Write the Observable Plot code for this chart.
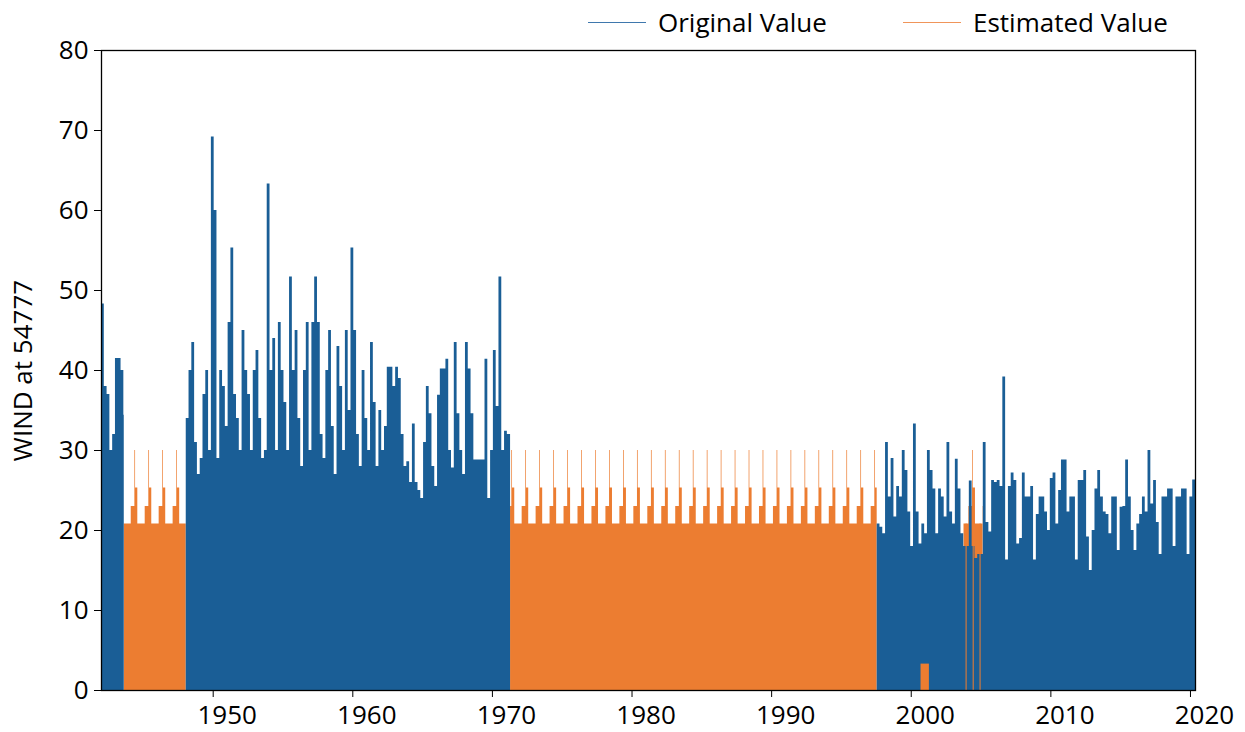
<!DOCTYPE html>
<html><head><meta charset="utf-8">
<script src="https://cdn.jsdelivr.net/npm/d3@7"></script>
<script src="https://cdn.jsdelivr.net/npm/@observablehq/plot@0.6"></script>
<style>
body{margin:0;background:#fff;font-family:"Open Sans",sans-serif;}
#wrap{position:relative;width:1245px;height:732px;overflow:hidden;}
#legend{position:absolute;left:0;top:0;height:40px;width:1245px;z-index:2;}
#chart{position:absolute;left:0;top:0;}
.li{position:absolute;top:2px;height:40px;display:flex;align-items:center;font-size:26px;color:#000;white-space:nowrap;}
.sw{display:inline-block;width:58px;height:0;border-top:1.5px solid;margin-right:12px;}
</style></head><body>
<div id="wrap"><div id="chart"></div><div id="legend"></div></div>
<script>
// ---- data ----
const seriesNames = ["Original Value", "Estimated Value"];
const seriesColors = ["#1a5e96", "#ec7d31"];
const legendLineColors = ["#3f78ad", "#f0955a"];
const yLabel = "WIND at 54777";
const xTicks = [1950, 1960, 1970, 1980, 1990, 2000, 2010, 2020];
const yTicks = [0, 10, 20, 30, 40, 50, 60, 70, 80];
const xDomain = [1942.0, 2020.36];

// original values: envelope of daily maxima sampled every 0.2 year
const origStep = 0.2;
const origA = {start: 1942.0, end: 1943.63};
const origAValues = [48.3, 38, 37, 30, 32, 41.5, 41.5, 40, 34.4];
const origB = {start: 1948.07, end: 1971.3};
const origBValues = [34, 40, 43.5, 31, 27, 29, 37, 40, 30, 69.2,
  60, 29, 40, 38, 33, 46, 55.3, 37, 34, 30,
  45, 40, 37, 30, 40, 42.5, 34, 29, 30, 63.3,
  40, 44, 30, 46, 40, 36, 30, 51.7, 40, 45,
  34, 28, 40, 46, 30, 46, 51.7, 46, 32, 29,
  40, 45, 33, 27, 43, 38, 30, 45, 35, 55.3,
  45, 32, 28, 40, 34, 30, 43.5, 36, 28, 35,
  30, 33, 40.4, 40.4, 38, 40.4, 39, 32, 28, 28.6,
  26, 33.3, 26, 25, 24, 31, 38, 34.6, 28, 25.5,
  36.9, 40.2, 40.2, 41.4, 30, 27.8, 43.5, 34.6, 30, 27,
  43.5, 40.2, 34.6, 28.8, 28.8, 28.8, 28.8, 41.4, 24, 30,
  42.5, 35.5, 51.7, 30, 32.4, 32];
const origC = {start: 1997.56, end: 2020.36};
const origCValues = [20.8, 20.4, 19.6, 31, 24.2, 29, 21.7, 25.5, 24.2, 30,
  27.5, 22.3, 18, 33.3, 22.3, 18.3, 20.8, 19.6, 30, 27.5,
  25.2, 19.6, 25.2, 24.2, 21.7, 31, 22.3, 20.8, 28.9, 25.2,
  19.6, 18, 18, 26.2, 18, 16.5, 17, 17, 31, 21,
  19.8, 26.25, 26, 26.25, 25.5, 39.2, 16.3, 25.5, 27.2, 26.25,
  18.3, 19, 27.2, 24.2, 24.2, 25.5, 16.3, 22, 24.2, 24.2,
  22.3, 20, 26.5, 27.2, 20.8, 25, 28.8, 28.8, 22.3, 24.2,
  24.2, 16.3, 26.25, 26.25, 27.5, 19.2, 15, 20, 25.2, 27.5,
  24.2, 22.3, 22, 19.6, 24.2, 24.2, 17.5, 22.9, 23, 28.8,
  24.2, 20, 17.5, 20.8, 22, 24.2, 22.3, 30, 23.3, 26.25,
  21, 17, 24.2, 24.2, 25.2, 25.2, 18, 24.2, 24.2, 25.2,
  25.2, 17, 24.2, 26.3];

// estimated values: seasonal pattern (fraction of year -> value)
const estPhase = [0, 0.13, 0.39, 0.44, 0.6];
const estLevel = [20.8, 23.0, 30.0, 25.3, 20.8];
const estPeriods = [[1943.63, 1948.07], [1971.3, 1997.56], [2003.78, 2005.15]];
const estBlock = [2000.7, 2001.3, 3.3];          // [from, to, value]
const estStripYears = [2003.93, 2004.44, 2004.93];
const estStripValues = [20.8, 20.8, 20.8];

// ---- build tables ----
function stepData(p, vals, seg) {
  const out = vals.map((v, i) => ({t: p.start + i * origStep, v, seg}));
  out.push({t: p.end, v: vals[vals.length - 1], seg});
  return out;
}
const orig = [
  ...stepData(origA, origAValues, "a"),
  ...stepData(origB, origBValues, "b"),
  ...stepData(origC, origCValues, "c")
];
function levelAt(t) {
  const f = t - Math.floor(t);
  let v = estLevel[0];
  estPhase.forEach((ph, k) => { if (f >= ph) v = estLevel[k]; });
  return v;
}
function estData([a, b], seg) {
  const pts = [{t: a, v: levelAt(a), seg}];
  for (let y = Math.floor(a); y <= Math.floor(b); y++) {
    estPhase.forEach((ph, k) => {
      const t = y + ph;
      if (t > a && t < b) pts.push({t, v: estLevel[k], seg});
    });
  }
  pts.push({t: b, v: levelAt(b), seg});
  return pts.sort((p, q) => p.t - q.t);
}
const estMain = [...estData(estPeriods[0], "e0"), ...estData(estPeriods[1], "e1")];
const estMixed = estData(estPeriods[2], "e2");
const estStrips = estStripYears.map((t, i) => ({t, v: estStripValues[i]}));

// ---- legend ----
const legend = document.getElementById("legend");
const legendX = [588, 903];
seriesNames.forEach((n, i) => {
  const d = document.createElement("div");
  d.className = "li";
  d.style.left = legendX[i] + "px";
  d.innerHTML = `<span class="sw" style="border-color:${legendLineColors[i]}"></span>${n}`;
  legend.appendChild(d);
});

// ---- chart ----
const chart = Plot.plot({
  width: 1245,
  height: 732,
  marginTop: 50,
  marginBottom: 42,
  marginLeft: 101,
  marginRight: 50,
  style: {fontFamily: "'Open Sans', sans-serif", fontSize: "26px", color: "#000", background: "#fff"},
  x: {domain: xDomain},
  y: {domain: [0, 80]},
  marks: [
    Plot.areaY(estMain, {x: "t", y: "v", z: "seg", curve: "step-after", fill: seriesColors[1]}),
    Plot.areaY(estMixed, {x: "t", y: "v", z: "seg", curve: "step-after", fill: seriesColors[1]}),
    Plot.areaY(orig, {x: "t", y: "v", z: "seg", curve: "step-after", fill: seriesColors[0]}),
    Plot.rectY([estBlock], {x1: d => d[0], x2: d => d[1], y1: 0, y2: d => d[2], fill: seriesColors[1]}),
    Plot.ruleX(estStrips, {x: "t", y1: 0, y2: "v", stroke: seriesColors[1], strokeWidth: 1.3, strokeOpacity: 0.8}),
    Plot.axisY({ticks: yTicks, tickSize: 7, tickPadding: 6, label: null, fontSize: 26}),
    Plot.axisX({ticks: xTicks, tickSize: 7, text: null, label: null}),
    Plot.axisX({ticks: xTicks, tickSize: 0, tickPadding: 15, dx: 14, tickFormat: d => String(d), label: null, fontSize: 26}),
    Plot.text([yLabel], {frameAnchor: "left", rotate: -90, dx: -70, lineAnchor: "bottom", textAnchor: "middle", fontSize: 26, fill: "#000"}),
    Plot.frame({stroke: "#000", strokeWidth: 1.3})
  ]
});
document.getElementById("chart").appendChild(chart);
</script></body></html>
